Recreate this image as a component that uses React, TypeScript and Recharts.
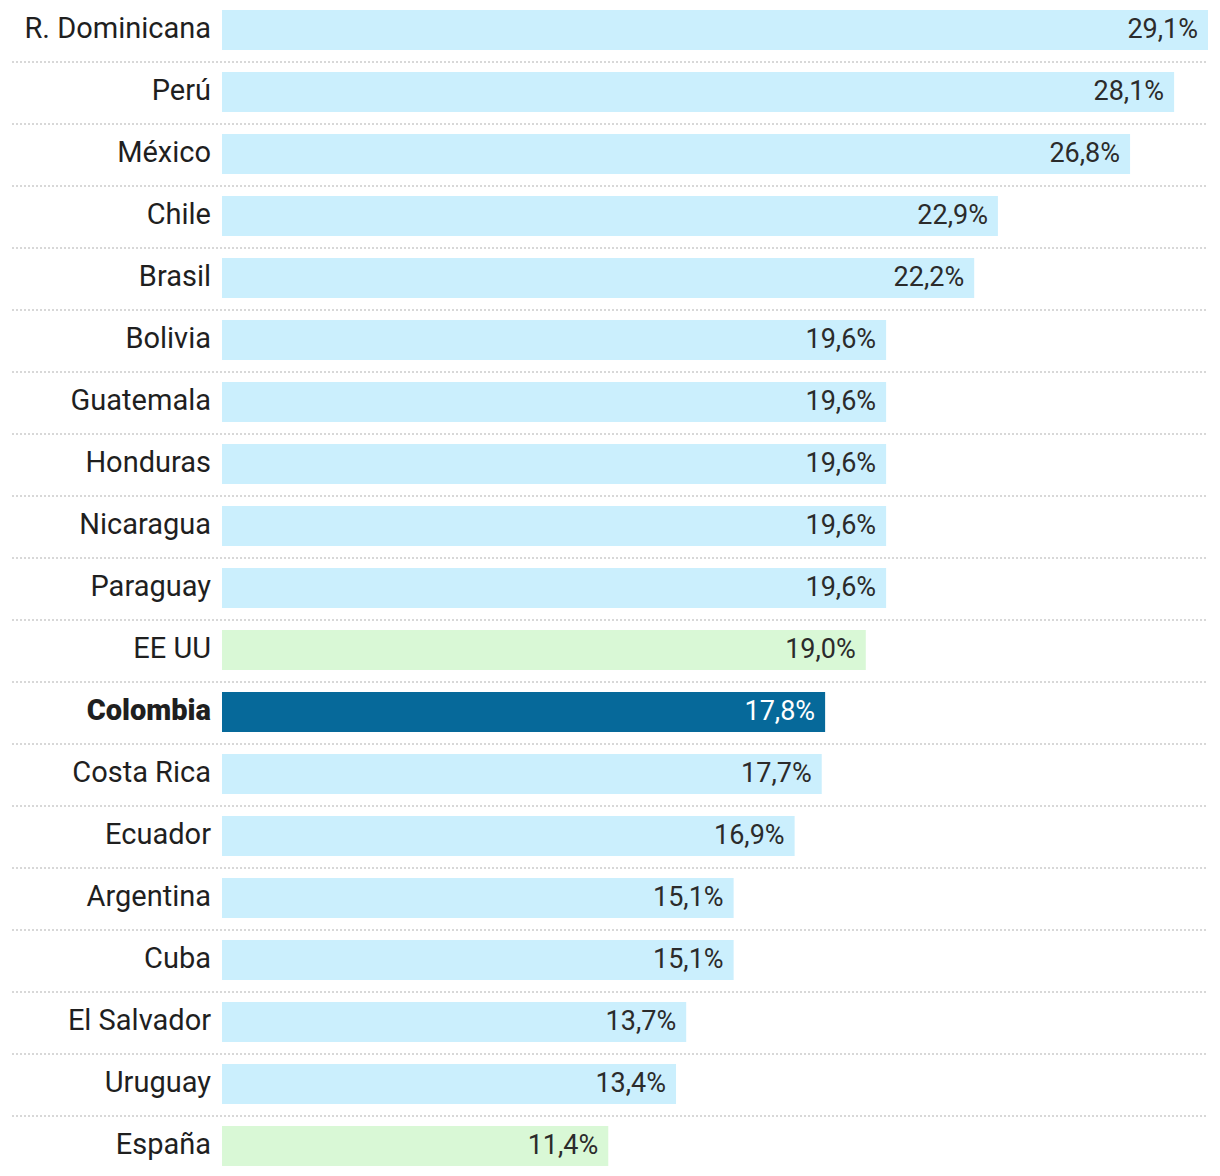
import React from 'react';
import { BarChart, Bar, XAxis, YAxis, Cell, LabelList } from 'recharts';

const countries = [
  'R. Dominicana', 'Perú', 'México', 'Chile', 'Brasil', 'Bolivia', 'Guatemala',
  'Honduras', 'Nicaragua', 'Paraguay', 'EE UU', 'Colombia', 'Costa Rica',
  'Ecuador', 'Argentina', 'Cuba', 'El Salvador', 'Uruguay', 'España',
];
const values = [
  29.1, 28.1, 26.8, 22.9, 22.2, 19.6, 19.6, 19.6, 19.6, 19.6, 19.0, 17.8,
  17.7, 16.9, 15.1, 15.1, 13.7, 13.4, 11.4,
];
// latam = light blue, outside = green, focus = Colombia
const groups = [
  'latam', 'latam', 'latam', 'latam', 'latam', 'latam', 'latam', 'latam', 'latam',
  'latam', 'outside', 'focus', 'latam', 'latam', 'latam', 'latam', 'latam', 'latam', 'outside',
];

const colors: Record<string, string> = {
  latam: '#cbeffd',
  outside: '#d9f8d6',
  focus: '#06699a',
};

const data = countries.map((name, i) => ({ name, value: values[i], group: groups[i] }));

const FONT = 'Roboto, "Noto Sans", sans-serif';

const fmt = (v: number) => v.toFixed(1).replace('.', ',') + '%';

function CountryTick(props: any) {
  const { x, y, payload, index } = props;
  const focus = payload.value === 'Colombia';
  const last = index === countries.length - 1;
  return (
    <g>
      {!last && (
        <line
          x1={12}
          x2={1208}
          y1={y + 32}
          y2={y + 32}
          stroke="#cccccc"
          strokeWidth={1.5}
          strokeDasharray="2 2"
        />
      )}
      <text
        x={x - 3}
        y={y}
        dy={8}
        textAnchor="end"
        fontFamily={FONT}
        fontSize={29}
        fontWeight={focus ? 900 : 400}
        fill="#1f1f1f"
      >
        {payload.value}
      </text>
    </g>
  );
}

function ValueLabel(props: any) {
  const { x, y, width, height, value, index } = props;
  const focus = groups[index] === 'focus';
  return (
    <text
      x={x + width - 10}
      y={y + height / 2}
      dy={8}
      textAnchor="end"
      fontFamily={FONT}
      fontSize={27}
      fill={focus ? '#ffffff' : '#2b2b2b'}
    >
      {fmt(value)}
    </text>
  );
}

export default function App() {
  return (
    <div style={{ position: 'absolute', left: 0, top: -1 }}>
      <BarChart
        width={1220}
        height={1178}
        data={data}
        layout="vertical"
        margin={{ top: 0, right: 12, left: 0, bottom: 0 }}
        barSize={40}
      >
        <XAxis type="number" domain={[0, 29.1]} hide />
        <YAxis
          type="category"
          dataKey="name"
          width={222}
          axisLine={false}
          tickLine={false}
          tick={<CountryTick />}
          interval={0}
        />
        <Bar dataKey="value" isAnimationActive={false}>
          {data.map((d, i) => (
            <Cell key={i} fill={colors[d.group]} />
          ))}
          <LabelList dataKey="value" content={<ValueLabel />} />
        </Bar>
      </BarChart>
    </div>
  );
}
